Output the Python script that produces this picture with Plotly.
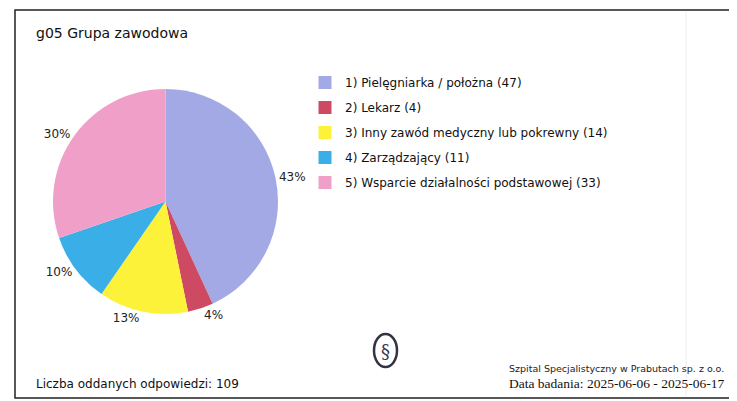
import plotly.graph_objects as go

# data
labels = [
    "1) Pielęgniarka / położna (47)",
    "2) Lekarz (4)",
    "3) Inny zawód medyczny lub pokrewny (14)",
    "4) Zarządzający (11)",
    "5) Wsparcie działalności podstawowej (33)",
]
counts = [47, 4, 14, 11, 33]
colors = ["#a3a9e4", "#cd4a62", "#fdf23a", "#3aaee6", "#f0a0c8"]

W, H = 737, 401
OFF = 8  # page body margin

def px_x(x):
    return (x - OFF) / W

def px_y(y):
    return 1 - (y - OFF) / H

fig = go.Figure()

fig.add_trace(go.Pie(
    labels=labels,
    values=counts,
    marker=dict(colors=colors, line=dict(color="#ffffff", width=0)),
    sort=False,
    direction="clockwise",
    rotation=0,
    texttemplate="%{percent:.0%}",
    textposition="outside",
    textfont=dict(family="DejaVu Sans", size=12, color="#222222"),
    domain=dict(x=[px_x(53), px_x(278)], y=[px_y(314), px_y(89)]),
    hoverinfo="label+value+percent",
    showlegend=False,
))

# legend entries (one per slice, so the rows can be spaced like the report)
for i, (lab, col) in enumerate(zip(labels, colors)):
    fig.add_trace(go.Scatter(
        x=[None], y=[None], mode="markers", name=lab, legendgroup=str(i),
        marker=dict(symbol="square", size=13, color=col),
        hoverinfo="skip",
    ))

# frame of the printed report
fig.add_shape(type="rect", xref="paper", yref="paper",
              x0=px_x(15), x1=px_x(760), y0=px_y(398), y1=px_y(10),
              line=dict(color="#222222", width=1.5))
fig.add_shape(type="line", xref="paper", yref="paper",
              x0=px_x(686), x1=px_x(686), y0=px_y(397), y1=px_y(11),
              line=dict(color="#eeeeee", width=1))

# logo stand-in
fig.add_shape(type="circle", xref="paper", yref="paper",
              x0=px_x(374), x1=px_x(397), y0=px_y(367), y1=px_y(334),
              line=dict(color="#333344", width=2.5))
fig.add_annotation(text="§", x=px_x(385.5), y=px_y(351), xref="paper", yref="paper",
                   xanchor="center", yanchor="middle", showarrow=False,
                   font=dict(family="DejaVu Serif", size=18, color="#333355"))

fig.add_annotation(text="g05 Grupa zawodowa", x=px_x(34), y=px_y(33), xref="paper", yref="paper",
                   xanchor="left", yanchor="middle", showarrow=False,
                   font=dict(family="DejaVu Sans", size=14, color="#111111"))
fig.add_annotation(text="Liczba oddanych odpowiedzi: 109", x=px_x(34), y=px_y(384), xref="paper", yref="paper",
                   xanchor="left", yanchor="middle", showarrow=False,
                   font=dict(family="DejaVu Sans", size=12, color="#111111"))
fig.add_annotation(text="Szpital Specjalistyczny w Prabutach sp. z o.o.", x=px_x(507), y=px_y(368),
                   xref="paper", yref="paper", xanchor="left", yanchor="middle", showarrow=False,
                   font=dict(family="DejaVu Sans", size=9.5, color="#222222"))
fig.add_annotation(text="Data badania: 2025-06-06 - 2025-06-17", x=px_x(507), y=px_y(383),
                   xref="paper", yref="paper", xanchor="left", yanchor="middle", showarrow=False,
                   font=dict(family="Liberation Serif", size=13.5, color="#111111"))

fig.update_layout(
    width=W, height=H,
    margin=dict(l=0, r=0, t=0, b=0),
    paper_bgcolor="#ffffff",
    plot_bgcolor="#ffffff",
    xaxis=dict(visible=False),
    yaxis=dict(visible=False),
    showlegend=True,
    legend=dict(x=px_x(305), y=px_y(68), xanchor="left", yanchor="top",
                bgcolor="rgba(0,0,0,0)",
                font=dict(family="DejaVu Sans", size=12, color="#111111"),
                tracegroupgap=6, traceorder="grouped"),
)

fig.write_html("out.html")
